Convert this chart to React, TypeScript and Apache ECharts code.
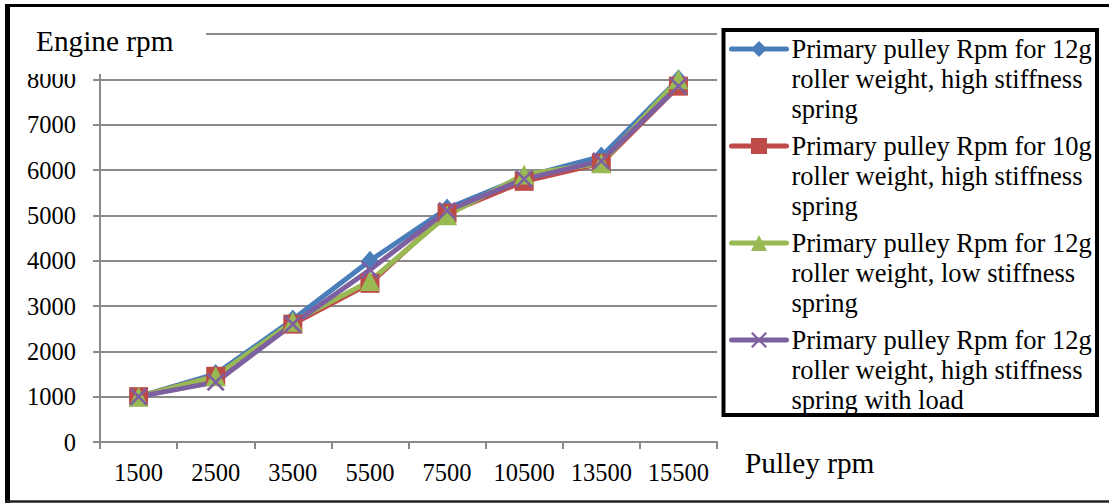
import React, { useEffect, useRef } from "react";
import * as echarts from "echarts";

// Pulley speed categories on the x axis
const pulleyRpm = ["1500", "2500", "3500", "5500", "7500", "10500", "13500", "15500"];

// Engine speed readings for each test configuration
const roller12gHigh = [1000, 1500, 2700, 4000, 5150, 5850, 6300, 8000];
const roller10gHigh = [1000, 1450, 2600, 3500, 5050, 5750, 6150, 7850];
const roller12gLow = [1000, 1450, 2650, 3550, 5000, 5900, 6150, 8000];
const roller12gHighLoad = [1000, 1320, 2600, 3800, 5100, 5800, 6200, 7850];

const seriesNames = [
  "Primary pulley Rpm for 12g roller weight, high stiffness spring",
  "Primary pulley Rpm for 10g roller weight, high stiffness spring",
  "Primary pulley Rpm for 12g roller weight, low stiffness spring",
  "Primary pulley Rpm for 12g roller weight, high stiffness spring with load",
];

const legendLines: Record<string, string[]> = {
  [seriesNames[0]]: ["Primary pulley Rpm for 12g", "roller weight, high stiffness", "spring"],
  [seriesNames[1]]: ["Primary pulley Rpm for 10g", "roller weight, high stiffness", "spring"],
  [seriesNames[2]]: ["Primary pulley Rpm for 12g", "roller weight, low stiffness", "spring"],
  [seriesNames[3]]: ["Primary pulley Rpm for 12g", "roller weight, high stiffness", "spring with load"],
};

const FONT = "'Liberation Serif', 'Times New Roman', serif";
const GRID_GRAY = "#8a8a8a";

// Thin "x" cross marker
const CROSS =
  "path://M2,0 L10,8 L18,0 L20,2 L12,10 L20,18 L18,20 L10,12 L2,20 L0,18 L8,10 L0,2 Z";

// Legend text is centred on its icon; two blank lines above the wording
// put the icon level with the first line.
const NBSP = "\u00a0";

export default function App() {
  const ref = useRef<HTMLDivElement>(null);

  useEffect(() => {
    if (!ref.current) return;
    const chart = echarts.init(ref.current, null, { renderer: "svg" });

    const mk = (name: string, data: number[], color: string, symbol: string, size: any) => ({
      name,
      type: "line",
      data,
      symbol,
      symbolSize: size,
      showSymbol: true,
      itemStyle: { color },
      lineStyle: { color, width: 5, cap: "round", join: "round" },
      emphasis: { disabled: true },
    });

    chart.setOption({
      animation: false,
      backgroundColor: "#ffffff",
      grid: { left: 100, right: 392, top: 34, bottom: 62 },
      xAxis: {
        type: "category",
        data: pulleyRpm,
        boundaryGap: true,
        axisLine: { lineStyle: { color: GRID_GRAY, width: 2 } },
        axisTick: { show: true, length: 7, lineStyle: { color: GRID_GRAY, width: 2 } },
        axisLabel: { interval: 0, fontFamily: FONT, fontSize: 24.5, color: "#000", margin: 18 },
        splitLine: { show: false },
      },
      yAxis: {
        type: "value",
        min: 0,
        max: 9000,
        interval: 1000,
        axisLine: { show: true, lineStyle: { color: GRID_GRAY, width: 2 } },
        axisTick: { show: true, length: 7, lineStyle: { color: GRID_GRAY, width: 2 } },
        axisLabel: {
          fontFamily: FONT,
          fontSize: 24.5,
          color: "#000",
          margin: 24,
          // the top gridline sits under the axis title, so it carries no label
          formatter: (v: number) => (v > 8000 ? "" : String(v)),
        },
        splitLine: { show: true, lineStyle: { color: GRID_GRAY, width: 2 } },
      },
      legend: {
        orient: "vertical",
        left: 729,
        top: -26,
        padding: 0,
        itemWidth: 55,
        itemHeight: 20,
        itemGap: -53,
        data: seriesNames,
        formatter: (name: string) => [NBSP, NBSP, ...legendLines[name]].join("\n"),
        lineStyle: { width: 5, cap: "round" },
        textStyle: {
          fontFamily: FONT,
          fontSize: 26.5,
          color: "#000",
          lineHeight: 30,
        },
      },
      series: [
        mk(seriesNames[0], roller12gHigh, "#4a7ebb", "diamond", [17, 20]),
        mk(seriesNames[1], roller10gHigh, "#be4b48", "rect", 19),
        mk(seriesNames[2], roller12gLow, "#98b954", "triangle", 20),
        mk(seriesNames[3], roller12gHighLoad, "#7d60a0", CROSS, 18),
      ],
      graphic: [
        // box behind the y-axis title
        {
          type: "rect",
          z: 100,
          shape: { x: 11, y: 8, width: 195, height: 66 },
          style: { fill: "#ffffff" },
        },
        {
          type: "text",
          z: 101,
          x: 36,
          y: 41,
          style: {
            text: "Engine rpm",
            font: `29.3px ${FONT}`,
            fill: "#000",
            verticalAlign: "middle",
          },
        },
        {
          type: "text",
          z: 101,
          x: 745,
          y: 463,
          style: {
            text: "Pulley rpm",
            font: `29.3px ${FONT}`,
            fill: "#000",
            verticalAlign: "middle",
          },
        },
        // legend frame
        {
          type: "rect",
          z: 100,
          shape: { x: 723.5, y: 30, width: 373.5, height: 385 },
          style: { fill: "none", stroke: "#000", lineWidth: 4 },
        },
        // outer frame
        {
          type: "line",
          z: 100,
          shape: { x1: 7.5, y1: 4, x2: 7.5, y2: 503 },
          style: { stroke: "#000", lineWidth: 5 },
        },
        {
          type: "line",
          z: 100,
          shape: { x1: 5, y1: 5.5, x2: 1109, y2: 5.5 },
          style: { stroke: "#000", lineWidth: 3 },
        },
        {
          type: "line",
          z: 100,
          shape: { x1: 5, y1: 501.5, x2: 1109, y2: 501.5 },
          style: { stroke: "#222", lineWidth: 2.5 },
        },
      ],
    });

    return () => chart.dispose();
  }, []);

  return (
    <div
      ref={ref}
      style={{ position: "fixed", left: 0, top: 0, width: 1109, height: 504 }}
    />
  );
}
